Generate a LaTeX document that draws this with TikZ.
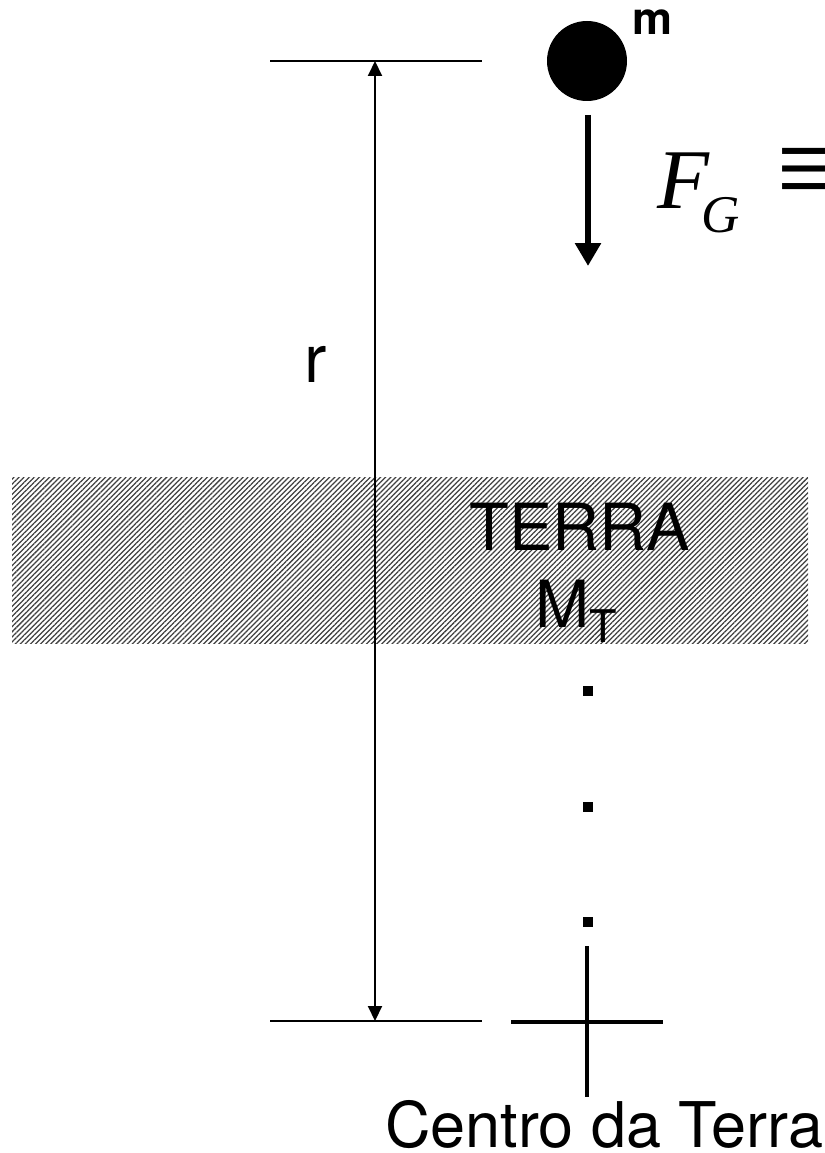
\documentclass[tikz,border=0pt]{standalone}
\usepackage{fontspec}
\setmainfont{TeX Gyre Heros}
\newfontfamily\tms{Liberation Serif}
\usetikzlibrary{patterns.meta,arrows.meta}
\newcommand\fsz[1]{\fontsize{#1}{#1}\selectfont}
\begin{document}
\begin{tikzpicture}[x=1pt,y=-1pt,
  lbl/.style={inner sep=0pt,outer sep=0pt,anchor=base west},
  refline/.style={line width=2.6pt},
  dimarrow/.style={line width=2pt,{Triangle[length=15pt,width=14pt]}-{Triangle[length=15pt,width=14pt]}},
  forcearrow/.style={line width=6pt,-{Triangle[length=23pt,width=25pt]}},
  crossline/.style={line width=4.8pt},
  dotbox/.style={fill=black,minimum size=9.5pt,inner sep=0pt,outer sep=0pt},
  hatch/.style={pattern={Lines[angle=45,distance=3.6pt,line width=1.25pt]},pattern color=black!75,inner sep=0pt,outer sep=0pt}]
\useasboundingbox (0,0) rectangle (824,1153);
% earth layer
\node[hatch,minimum width=796pt,minimum height=166pt] (terra) at (410,560) {};
% reference lines
\coordinate (tl) at (270,61);
\coordinate (tr) at (482,61);
\coordinate (bl) at (270,1021);
\coordinate (br) at (482,1021);
\coordinate (at) at (375,61);
\coordinate (ab) at (375,1021);
\draw[refline] (tl) -- (tr);
\draw[refline] (bl) -- (br);
\draw[dimarrow] (at) -- (ab);
% mass
\node[circle,fill=black,minimum size=80pt,inner sep=0pt] (mass) at (587,61) {};
\coordinate (fa) at (588,115);
\coordinate (fb) at (588,266);
\draw[forcearrow] (fa) -- (fb);
% dots
\node[dotbox] (d1) at (588,691) {};
\node[dotbox] (d2) at (588,807) {};
\node[dotbox] (d3) at (588,922) {};
% centre cross
\coordinate (ch1) at (511,1022);
\coordinate (ch2) at (663,1022);
\coordinate (cv1) at (587,946);
\coordinate (cv2) at (587,1097);
\draw[crossline] (ch1) -- (ch2);
\draw[crossline] (cv1) -- (cv2);
% labels
\node[lbl] (mlab) at (632,35) {\fsz{45}\bfseries m};
\node[lbl] (F) at (657,208) {\tms\itshape\fsz{85}F};
\node[lbl] (G) at (701,232) {\tms\itshape\fsz{53}G};
\node[lbl] (eq) at (776,209) {\tms\fsz{122}≡};
\node[lbl] (rlab) at (304,382) {\fsz{67}r};
\node[inner sep=0pt,anchor=base] (terralab) at (580,550) {\fsz{65}TERRA};
\node[lbl] (mt) at (535,627) {\fsz{65}M\raisebox{-15pt}{\fsz{45}T}};
\node[lbl] (centro) at (385,1147) {\fsz{63}Centro da Terra};
\end{tikzpicture}
\end{document}
